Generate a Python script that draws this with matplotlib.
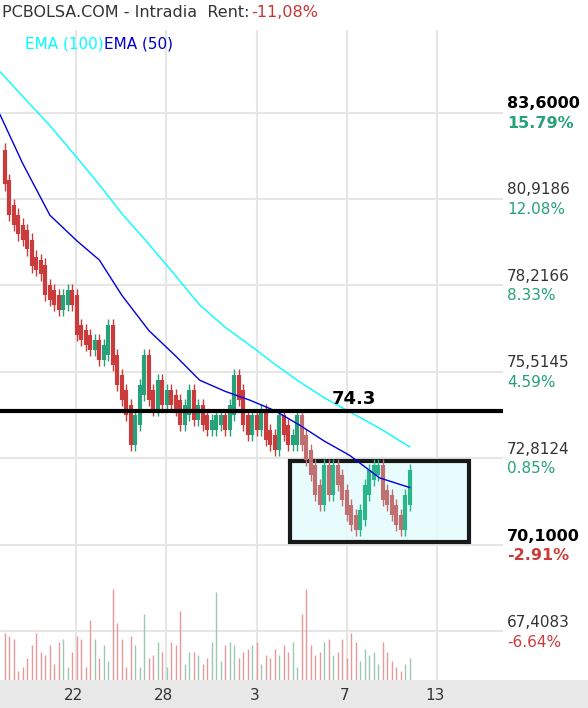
import matplotlib
matplotlib.use("Agg")
import matplotlib.pyplot as plt
from matplotlib.patches import Rectangle

closes = [81.51,80.57,80.26,79.95,79.79,79.48,78.95,78.85,78.70,78.07,77.91,77.76,77.60,77.76,77.91,77.76,
          76.82,76.66,76.51,76.35,76.35,76.04,76.20,76.82,75.88,75.26,74.79,74.32,73.38,74.01,74.95,75.88,
          74.79,74.48,75.10,74.63,74.79,74.63,74.48,74.01,74.32,74.79,74.17,74.32,74.01,73.85,73.85,74.01,
          74.01,73.85,74.32,75.26,74.79,74.01,73.70,74.01,73.85,74.17,73.54,73.38,73.23,74.01,73.70,73.38,
          73.38,74.01,73.38,72.92,72.45,71.82,71.51,72.45,71.82,72.45,72.13,71.67,71.20,70.89,70.73,71.04,
          71.82,72.29,72.45,72.45,71.67,71.51,71.20,70.89,70.73,71.51,72.29]
opens = [82.29,81.35,80.57,80.26,79.95,79.79,79.48,78.95,78.85,78.70,78.07,77.91,77.76,77.60,77.76,77.91,
         77.76,76.82,76.66,76.51,76.35,76.35,76.04,76.20,76.82,75.88,75.26,74.79,74.32,73.38,74.01,74.95,
         75.88,74.79,74.48,75.10,74.63,74.79,74.63,74.48,74.01,74.32,74.79,74.17,74.32,74.01,73.85,73.85,
         74.01,74.01,73.85,74.32,75.26,74.79,74.01,73.70,74.01,73.85,74.17,73.54,73.38,73.23,74.01,73.70,
         73.38,73.38,74.01,73.38,72.92,72.45,71.82,71.51,72.45,71.82,72.45,72.13,71.67,71.20,70.89,70.73,
         71.04,71.82,72.29,72.45,72.45,71.67,71.51,71.20,70.89,70.73,71.51]
volumes = [30,28,26,6,8,14,22,30,18,16,22,10,24,26,8,18,28,26,8,38,26,14,22,12,58,36,26,8,28,22,8,42,14,
           16,24,18,8,24,22,44,10,18,18,16,10,14,24,56,12,22,24,22,14,18,20,22,24,10,16,14,20,16,22,18,24,
           8,42,58,22,16,18,24,26,16,18,26,14,30,24,12,20,16,18,10,24,18,12,8,6,10,14]
ema50_idx = [-1.1,4,10,16,21,26,32,38,43.3,49,54.4,60,65.5,71,76.7,83.3,90]
ema50 = [83.54,82.0,80.4,79.6,79.0,77.9,76.8,76.0,75.25,74.9,74.63,74.3,73.85,73.35,72.9,72.2,71.9]
ema100_idx = [-1.1,4,10,16,21,26,32,38,43.3,49,54.4,60,65.5,71,76.7,83.3,90]
ema100 = [84.88,84.1,83.2,82.2,81.35,80.45,79.5,78.5,77.6,76.9,76.35,75.75,75.2,74.7,74.26,73.75,73.17]
right_ticks = [83.6, 80.9186, 78.2166, 75.5145, 72.8124, 70.1, 67.4083]
right_labels = ["83,6000","80,9186","78,2166","75,5145","72,8124","70,1000","67,4083"]
pct_labels = ["15.79%","12.08%","8.33%","4.59%","0.85%","-2.91%","-6.64%"]
x_ticks = [15.8, 35.8, 56.0, 76.0, 96.0]
x_labels = ["22","28","3","7","13"]
level = 74.3
box_x = (63.3, 103.3)
box_y = (70.2, 72.73)

fig = plt.figure(figsize=(5.88, 7.08), dpi=100)
ax = fig.add_axes([0, 0.0395, 0.855, 0.9185])
ax.set_xlim(-1.1, 110.7)
ax.set_ylim(65.89, 86.19)
for t in right_ticks:
    ax.axhline(t, color="#e6e6e6", lw=1.5, zorder=0)
for t in x_ticks:
    ax.axvline(t, color="#e6e6e6", lw=1.5, zorder=0)
ax.set_xticks([]); ax.set_yticks([])
for s in ax.spines.values():
    s.set_visible(False)

green, red = "#26a17a", "#cc3b3b"
for i, (o, c) in enumerate(zip(opens, closes)):
    col = green if c >= o else red
    if i >= 66:
        col = "#2bb58a" if c >= o else "#c07070"
    hi, lo = max(o, c) + 0.35, min(o, c) - 0.35
    ax.vlines(i, lo, hi, color=col, lw=1, zorder=3)
    ax.vlines(i, min(o, c) - 0.15, max(o, c) + 0.15, color=col, lw=3, zorder=3)

ax.plot(ema100_idx, ema100, color="cyan", lw=1, zorder=4)
ax.plot(ema50_idx, ema50, color="#0000dd", lw=1, zorder=4)
ax.axhline(level, color="black", lw=3, zorder=5)
ax.text(77.5, level + 0.08, "74.3", fontsize=13, fontweight="bold", ha="center", va="bottom", zorder=6)
ax.add_patch(Rectangle((box_x[0], box_y[0]), box_x[1]-box_x[0], box_y[1]-box_y[0],
                       facecolor="#e6fbfd", edgecolor="black", lw=3, zorder=2, alpha=0.9))

vax = fig.add_axes([0, 0.0395, 0.855, 0.2], facecolor="none")
vax.set_xlim(-1.1, 110.7); vax.set_ylim(0, 90)
for i, v in enumerate(volumes):
    vax.vlines(i, 0, v, color="#e89a9a" if closes[i] < opens[i] else "#9cc7b0", lw=1)
vax.axis("off")

bax = fig.add_axes([0, 0, 1, 0.0395])
bax.set_facecolor("#e8e8e8"); bax.set_xlim(-1.1, 110.7/0.855); bax.set_ylim(0, 1)
bax.set_xticks([]); bax.set_yticks([])
for s in bax.spines.values():
    s.set_visible(False)
for t, l in zip(x_ticks, x_labels):
    bax.text(t - 0.6, 0.45, l, ha="center", va="center", fontsize=11, color="#333333")

for t, l, p in zip(right_ticks, right_labels, pct_labels):
    bold = l in ("83,6000", "70,1000")
    pc = green if not p.startswith("-") else red
    ax.text(110.7 + 1, t + 0.05, l, ha="left", va="bottom", fontsize=11.5 if bold else 11,
            fontweight="bold" if bold else "normal", color="black" if bold else "#333333", clip_on=False)
    ax.text(110.7 + 1, t - 0.1, p, ha="left", va="top", fontsize=11.5 if bold else 11,
            fontweight="bold" if bold else "normal", color=pc, clip_on=False)

fig.text(0.003, 0.982, "PCBOLSA.COM - Intradia  Rent:", fontsize=11.5, color="#333333", va="center")
fig.text(0.427, 0.982, "-11,08%", fontsize=11.5, color="#cc3333", va="center")
fig.text(0.043, 0.938, "EMA (100)", fontsize=11, color="cyan", va="center")
fig.text(0.177, 0.938, "EMA (50)", fontsize=11, color="#0000cc", va="center")
fig.savefig("out.png", dpi=100)
